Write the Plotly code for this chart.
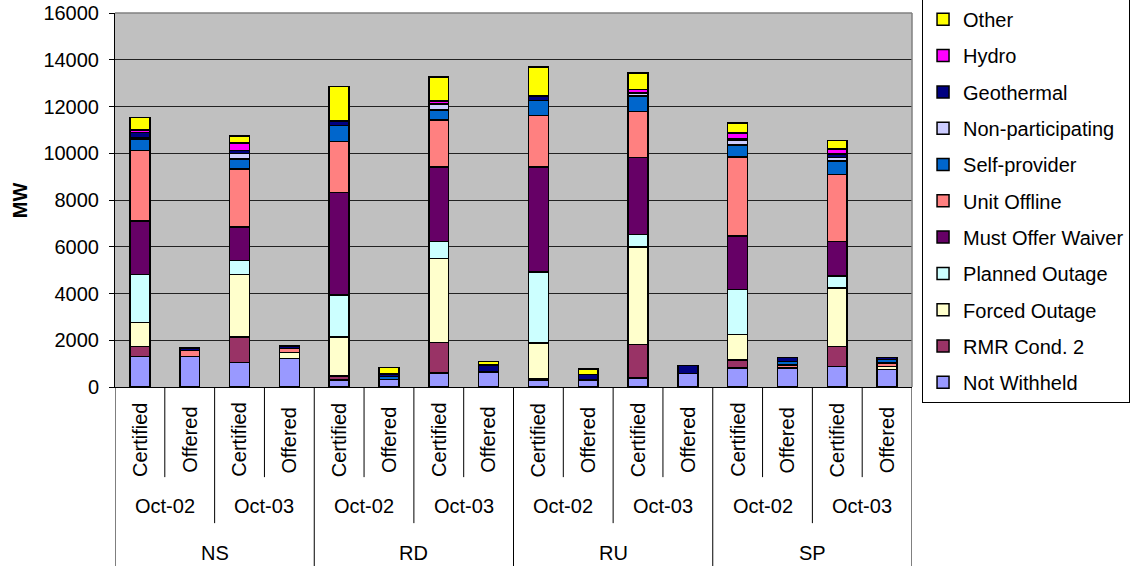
import plotly.graph_objects as go

# ---- data ----
regions = ["NS", "RD", "RU", "SP"]
months = ["Oct-02", "Oct-03"]
kinds = ["Certified", "Offered"]

# stacking order: bottom -> top
not_withheld = [1310, 1310, 1050, 1230, 310, 320, 600, 640, 310, 310, 390, 570, 820, 820, 880, 740]
rmr_cond2 = [430, 0, 1090, 0, 170, 0, 1310, 0, 60, 0, 1430, 0, 330, 0, 860, 0]
forced_outage = [1030, 0, 2670, 250, 1660, 0, 3580, 0, 1520, 0, 4170, 0, 1090, 0, 2490, 140]
planned_outage = [2050, 0, 600, 0, 1790, 0, 740, 0, 3030, 0, 540, 0, 1940, 0, 520, 0]
must_offer_waiver = [2290, 0, 1430, 0, 4390, 0, 3190, 0, 4500, 0, 3290, 0, 2290, 0, 1480, 0]
unit_offline = [3000, 260, 2480, 170, 2190, 0, 2000, 0, 2190, 0, 1960, 0, 3360, 120, 2860, 150]
self_provider = [500, 0, 430, 0, 670, 120, 430, 0, 640, 0, 660, 0, 530, 150, 570, 140]
non_participating = [60, 0, 250, 0, 0, 0, 250, 0, 0, 0, 130, 0, 180, 0, 150, 0]
geothermal = [220, 100, 110, 100, 200, 120, 0, 310, 190, 215, 0, 360, 70, 170, 160, 100]
hydro = [110, 0, 330, 0, 0, 0, 140, 0, 0, 0, 150, 0, 260, 0, 210, 0]
other = [530, 0, 290, 0, 1470, 280, 1020, 140, 1240, 240, 720, 0, 430, 0, 360, 0]

series = [
    ("Not Withheld", not_withheld, "#9999FF"),
    ("RMR Cond. 2", rmr_cond2, "#993366"),
    ("Forced Outage", forced_outage, "#FFFFCC"),
    ("Planned Outage", planned_outage, "#CCFFFF"),
    ("Must Offer Waiver", must_offer_waiver, "#660066"),
    ("Unit Offline", unit_offline, "#FF8080"),
    ("Self-provider", self_provider, "#0066CC"),
    ("Non-participating", non_participating, "#CCCCFF"),
    ("Geothermal", geothermal, "#000080"),
    ("Hydro", hydro, "#FF00FF"),
    ("Other", other, "#FFFF00"),
]

FONT = "Liberation Sans, Arial, sans-serif"

n = len(regions) * len(months) * len(kinds)
xs = list(range(n))

fig = go.Figure()
for idx, (name, vals, col) in enumerate(series):
    fig.add_trace(go.Bar(
        x=xs, y=vals, name=name, legendgroup=name, legendrank=100 - idx, width=0.4,
        marker=dict(color=col, line=dict(color="black", width=1.5)),
    ))

annotations = []
shapes = []
# lowest level labels
for i in xs:
    annotations.append(dict(x=i, y=-0.142, xref="x", yref="paper", text=kinds[i % 2],
                            textangle=-90, showarrow=False, xanchor="center", yanchor="middle",
                            font=dict(family=FONT, size=20, color="black")))
# month labels
for j in range(len(regions) * len(months)):
    annotations.append(dict(x=2 * j + 0.5, y=-0.318, xref="x", yref="paper", text=months[j % 2],
                            showarrow=False, xanchor="center", yanchor="middle",
                            font=dict(family=FONT, size=20, color="black")))
# region labels
for g, r in enumerate(regions):
    annotations.append(dict(x=4 * g + 1.5, y=-0.444, xref="x", yref="paper", text=r,
                            showarrow=False, xanchor="center", yanchor="middle",
                            font=dict(family=FONT, size=20, color="black")))
# y title
annotations.append(dict(x=-0.119, y=0.5, xref="paper", yref="paper", text="<b>MW</b>",
                        textangle=-90, showarrow=False, xanchor="center", yanchor="middle",
                        font=dict(family=FONT, size=20, color="black")))

# separators in category table
for k in range(n + 1):
    if k % 4 == 0:
        y1 = -0.48
    elif k % 2 == 0:
        y1 = -0.364
    else:
        y1 = -0.241
    shapes.append(dict(type="line", xref="x", yref="paper", x0=k - 0.5, x1=k - 0.5,
                       y0=0, y1=y1, line=dict(color="black", width=1)))
# plot area border (top and right)
shapes.append(dict(type="line", xref="paper", yref="paper", x0=0, x1=1, y0=1, y1=1,
                   line=dict(color="#808080", width=1.5)))
shapes.append(dict(type="line", xref="paper", yref="paper", x0=1, x1=1, y0=0, y1=1,
                   line=dict(color="#808080", width=1.5)))

fig.update_layout(
    width=1135, height=566,
    margin=dict(l=115, r=223, t=13, b=179, pad=0, autoexpand=False),
    barmode="stack",
    plot_bgcolor="#C0C0C0",
    paper_bgcolor="white",
    font=dict(family=FONT, size=20, color="black"),
    showlegend=True,
    legend=dict(
        x=1.0126, y=1.038, xanchor="left", yanchor="top",
        traceorder="grouped", tracegroupgap=7.3, maxheight=430,
        bordercolor="black", borderwidth=1, bgcolor="white",
        font=dict(family=FONT, size=20, color="black"),
    ),
    xaxis=dict(range=[-0.5, n - 0.5], showticklabels=False, ticks="", showgrid=False,
               zeroline=False, showline=True, linecolor="black", linewidth=1),
    yaxis=dict(range=[0, 16000], dtick=2000, tickformat="d", showgrid=True,
               gridcolor="#222222", gridwidth=1,
               zeroline=False, showline=True, linecolor="black", linewidth=1,
               ticks="outside", ticklen=5, tickcolor="black",
               tickfont=dict(family=FONT, size=20), ticklabelstandoff=6),
    annotations=annotations,
    shapes=shapes,
    bargap=0.6,
)

fig.write_html("out.html")
